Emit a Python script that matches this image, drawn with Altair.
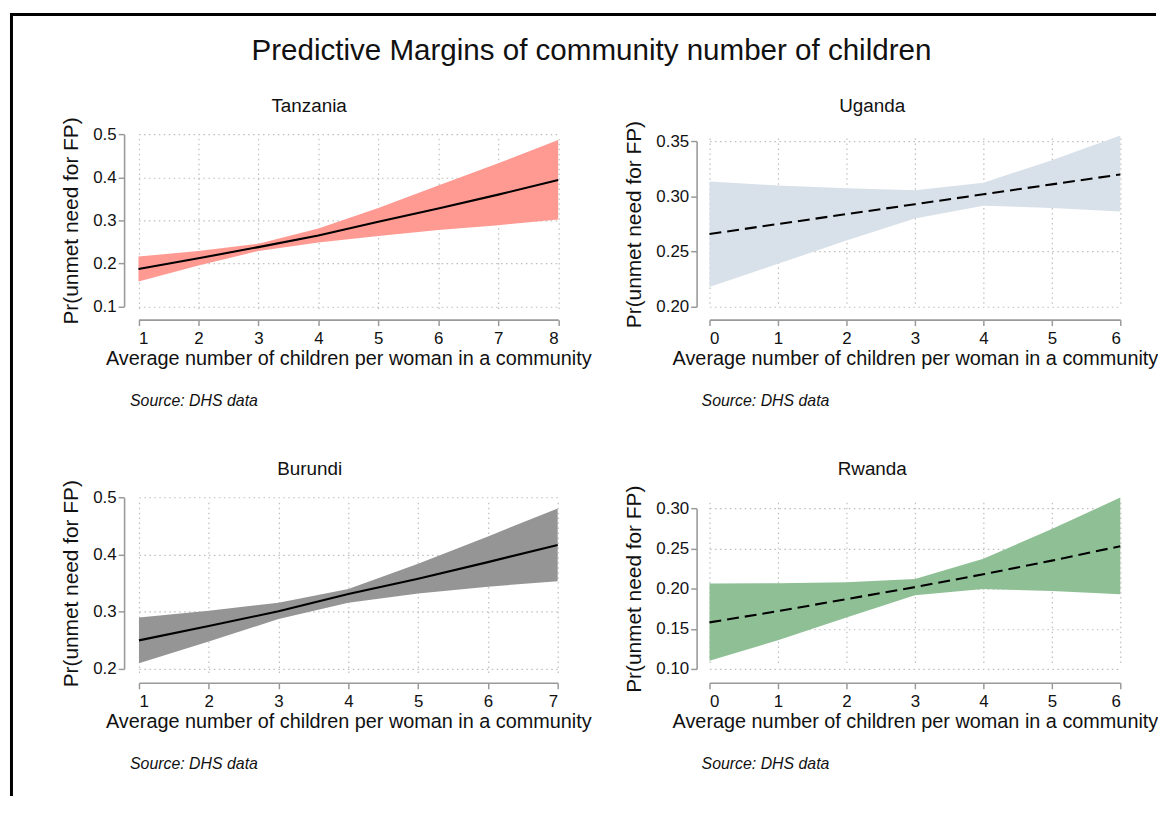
import altair as alt
import pandas as pd

FONT = "Liberation Sans"

main_title = "Predictive Margins of community number of children"
countries = ["Tanzania", "Uganda", "Burundi", "Rwanda"]
y_title = "Pr(unmet need for FP)"
x_title = "Average number of children per woman in a community"
note_text = "Source: DHS data"

# Tanzania
tz_x = [1, 2, 3, 4, 5, 6, 7, 8]
tz_margin = [0.187, 0.212, 0.238, 0.265, 0.297, 0.328, 0.360, 0.394]
tz_upper = [0.216, 0.229, 0.246, 0.281, 0.329, 0.381, 0.433, 0.487]
tz_lower = [0.158, 0.195, 0.229, 0.249, 0.264, 0.278, 0.289, 0.302]

# Uganda
ug_x = [0, 1, 2, 3, 4, 5, 6]
ug_margin = [0.266, 0.275, 0.284, 0.293, 0.302, 0.311, 0.320]
ug_upper = [0.3137, 0.3100, 0.3074, 0.3056, 0.3125, 0.3329, 0.3554]
ug_lower = [0.2180, 0.2390, 0.2600, 0.2800, 0.2916, 0.2896, 0.2864]

# Burundi
bu_x = [1, 2, 3, 4, 5, 6, 7]
bu_margin = [0.250, 0.275, 0.301, 0.331, 0.358, 0.387, 0.417]
bu_upper = [0.290, 0.302, 0.316, 0.340, 0.384, 0.432, 0.481]
bu_lower = [0.210, 0.248, 0.2875, 0.316, 0.332, 0.344, 0.3535]

# Rwanda
rw_x = [0, 1, 2, 3, 4, 5, 6]
rw_margin = [0.158, 0.172, 0.187, 0.202, 0.218, 0.235, 0.253]
rw_upper = [0.2064, 0.2068, 0.2080, 0.2120, 0.2373, 0.2744, 0.3136]
rw_lower = [0.1103, 0.1357, 0.1640, 0.1918, 0.1995, 0.1970, 0.1930]

# axis ticks
tz_xticks = [1, 2, 3, 4, 5, 6, 7, 8]
tz_yticks = [0.1, 0.2, 0.3, 0.4, 0.5]
ug_xticks = [0, 1, 2, 3, 4, 5, 6]
ug_yticks = [0.20, 0.25, 0.30, 0.35]
bu_xticks = [1, 2, 3, 4, 5, 6, 7]
bu_yticks = [0.2, 0.3, 0.4, 0.5]
rw_xticks = [0, 1, 2, 3, 4, 5, 6]
rw_yticks = [0.10, 0.15, 0.20, 0.25, 0.30]

band_colors = ["#ff9a93", "#d8e1e9", "#959595", "#8fc095"]

PW, PH = 440, 196


def panel(name, xs, margin, lower, upper, fill, dashed, xticks, yticks,
          yfmt, xrange_px, yrange_px, title_x, note_x, frame=False):
    df = pd.DataFrame({"x": xs, "m": margin, "lo": lower, "hi": upper})
    xscale = alt.Scale(domain=[xticks[0], xticks[-1]], range=xrange_px,
                       nice=False, zero=False)
    yscale = alt.Scale(domain=[yticks[0], yticks[-1]], range=yrange_px,
                       nice=False, zero=False)
    xaxis = alt.Axis(values=xticks, format="d", title=x_title, grid=True)
    yaxis = alt.Axis(values=yticks, format=yfmt, title=y_title, grid=True)
    base = alt.Chart(df)
    band = base.mark_area(color=fill, opacity=1).encode(
        x=alt.X("x:Q", scale=xscale, axis=xaxis),
        y=alt.Y("lo:Q", scale=yscale, axis=yaxis),
        y2="hi:Q",
    )
    line_kw = dict(color="black", strokeWidth=2.1)
    if dashed:
        line_kw["strokeDash"] = [12, 6]
    line = base.mark_line(**line_kw).encode(
        x=alt.X("x:Q", scale=xscale, axis=xaxis),
        y=alt.Y("m:Q", scale=yscale, axis=yaxis),
    )
    title = alt.Chart(pd.DataFrame({"t": [name]})).mark_text(
        font=FONT, fontSize=19, color="#111111", align="center",
        baseline="alphabetic").encode(
        text="t:N", x=alt.value(title_x), y=alt.value(-13))
    note = alt.Chart(pd.DataFrame({"t": [note_text]})).mark_text(
        font=FONT, fontSize=16, fontStyle="italic", color="#111111",
        align="left", baseline="alphabetic").encode(
        text="t:N", x=alt.value(note_x), y=alt.value(283))
    layers = [band, line, title, note]
    if frame:
        head = alt.Chart(pd.DataFrame({"t": [main_title]})).mark_text(
            font=FONT, fontSize=29.8, color="#111111", align="center",
            baseline="alphabetic").encode(
            text="t:N", x=alt.value(471), y=alt.value(-66))
        one = pd.DataFrame({"k": [0]})
        vline = alt.Chart(one).mark_rule(color="black", strokeWidth=3).encode(
            x=alt.value(-113.5), y=alt.value(-111.5), y2=alt.value(676))
        hline = alt.Chart(one).mark_rule(color="black", strokeWidth=3).encode(
            x=alt.value(-115), x2=alt.value(1040), y=alt.value(-111.5))
        layers += [head, vline, hline]
    return alt.layer(*layers).properties(width=PW, height=PH)


tz = panel(countries[0], tz_x, tz_margin, tz_lower, tz_upper, band_colors[0],
           False, tz_xticks, tz_yticks, ".1f", [14.5, 437.5], [182.7, 9.3],
           186.5, 6, frame=True)
ug = panel(countries[1], ug_x, ug_margin, ug_lower, ug_upper, band_colors[1],
           True, ug_xticks, ug_yticks, ".2f", [13, 427], [183, 16.3],
           177, 5)
bu = panel(countries[2], bu_x, bu_margin, bu_lower, bu_upper, band_colors[2],
           False, bu_xticks, bu_yticks, ".1f", [15, 437], [182, 9.3],
           187, 6)
rw = panel(countries[3], rw_x, rw_margin, rw_lower, rw_upper, band_colors[3],
           True, rw_xticks, rw_yticks, ".2f", [13, 427], [182, 20.3],
           177, 5)

chart = alt.concat(
    tz, ug, bu, rw, columns=2, bounds="flush",
    spacing={"row": 170, "column": 137},
).properties(
    padding={"left": 0, "top": 2, "right": 0, "bottom": 0},
    background="white",
).configure_view(
    stroke=None
).configure_axis(
    labelFont=FONT, titleFont=FONT, labelFontSize=17,
    labelColor="#111111", titleColor="#111111", titleFontWeight="normal",
    domainColor="#9a9a9a", domainWidth=1.6, tickColor="#9a9a9a",
    tickWidth=1.5, tickSize=6, gridColor="#bdbdbd", gridDash=[1.5, 3.5],
    gridWidth=1.2,
).configure_axisX(
    titleFontSize=20, titlePadding=2, labelPadding=5,
).configure_axisY(
    titleFontSize=21, titlePadding=11, labelPadding=2,
)

chart.save("out.html", embed_options={"renderer": "svg", "actions": False})
